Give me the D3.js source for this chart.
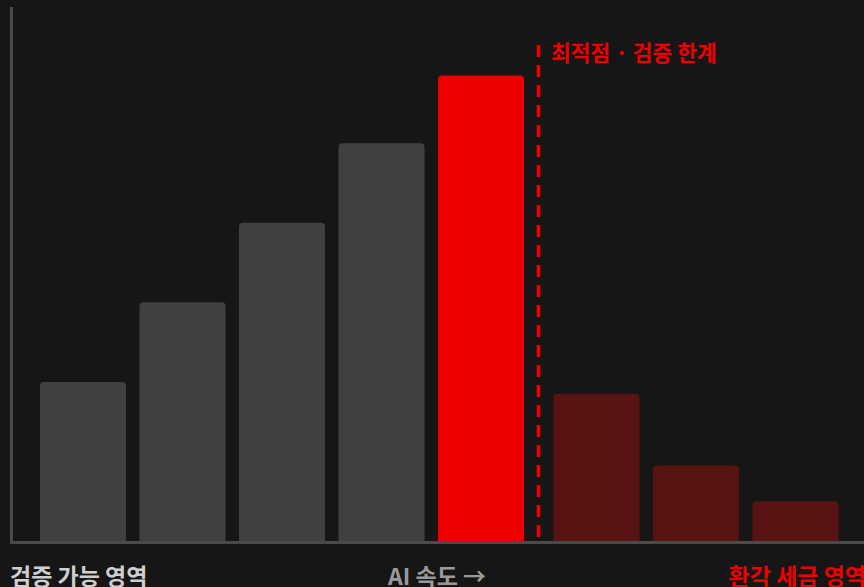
<!DOCTYPE html>
<html>
<head>
<meta charset="utf-8">
<script src="https://cdn.jsdelivr.net/npm/d3@7"></script>
<style>
  html, body { margin: 0; padding: 0; background: #161616; overflow: hidden; }
  svg { display: block; }
  text { font-family: "Noto Sans CJK KR", "Noto Sans", sans-serif; font-weight: 700; }
</style>
</head>
<body>
<div id="chart"></div>
<script>
// chart data
const steps = ["s1", "s2", "s3", "s4", "peak", "h1", "h2", "h3"];
const values = [40, 60, 80, 100, 117, 37, 19, 10];
const zones = ["safe", "safe", "safe", "safe", "peak", "halluc", "halluc", "halluc"];
const leftLabel = "검증 가능 영역";
const midLabel = "AI 속도 →";
const rightLabel = "환각 세금 영역";
const peakLabel = "최적점 · 검증 한계";

const width = 864;
const height = 587;
const baseY = 541;

const color = d3.scaleOrdinal()
    .domain(["safe", "peak", "halluc"])
    .range(["#404040", "#ee0000", "#5a1313"]);

const svg = d3.select("#chart").append("svg")
    .attr("width", width)
    .attr("height", height);

const x = d3.scaleBand()
    .domain(steps)
    .range([40, 822.5])
    .paddingInner(0.1357)
    .paddingOuter(0);

// bars after the peak sit a little further right, past the dashed line
const shift = i => (i > 4 ? 16 : 0);

const y = d3.scaleLinear()
    .domain([0, 135])
    .range([baseY, 4]);

svg.selectAll(".bar")
    .data(values)
    .enter().append("rect")
    .attr("class", "bar")
    .attr("x", (d, i) => x(steps[i]) + shift(i))
    .attr("y", d => y(d))
    .attr("width", x.bandwidth())
    .attr("height", d => baseY - y(d) + 6)
    .attr("rx", 4)
    .style("fill", (d, i) => color(zones[i]));

// axes
svg.append("rect")
    .attr("x", 10).attr("y", 7)
    .attr("width", 3).attr("height", baseY + 3 - 7)
    .style("fill", "#4a4a4a");

svg.append("rect")
    .attr("x", 10).attr("y", baseY)
    .attr("width", width - 10).attr("height", 3)
    .style("fill", "#4a4a4a");

// cover the part of bars below the axis
svg.append("rect")
    .attr("x", 13).attr("y", baseY + 3)
    .attr("width", width).attr("height", 10)
    .style("fill", "#161616");

// peak marker
const peakX = x("peak") + x.bandwidth() + 14.5;
svg.append("line")
    .attr("x1", peakX).attr("x2", peakX)
    .attr("y1", 45).attr("y2", baseY)
    .style("stroke", "#ee0000")
    .style("stroke-width", 3.6)
    .style("stroke-dasharray", "12,8");

svg.append("text")
    .attr("x", peakX + 12.5)
    .attr("y", 61)
    .style("font-size", "21.5px")
    .style("fill", "#ee0000")
    .text(peakLabel);

// bottom labels
svg.append("text")
    .attr("x", 10).attr("y", 585)
    .style("font-size", "23px")
    .style("fill", "#cfcfcf")
    .text(leftLabel);

svg.append("text")
    .attr("x", 437).attr("y", 585)
    .attr("text-anchor", "middle")
    .style("font-size", "23px")
    .style("fill", "#9a9a9a")
    .text(midLabel);

svg.append("text")
    .attr("x", 866).attr("y", 585)
    .attr("text-anchor", "end")
    .style("font-size", "23px")
    .style("fill", "#ee0000")
    .text(rightLabel);
</script>
</body>
</html>
